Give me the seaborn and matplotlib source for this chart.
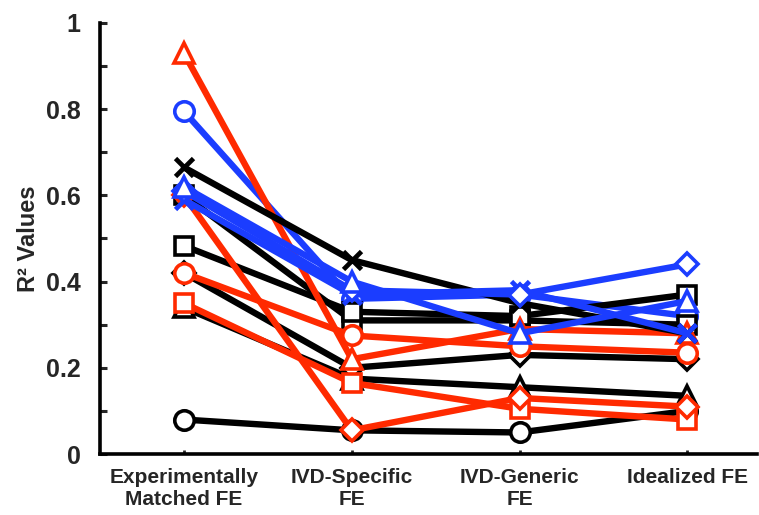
import matplotlib
matplotlib.use("Agg")
import matplotlib.pyplot as plt
import seaborn as sns
import pandas as pd
import numpy as np

# Model categories along the x axis
categories = ["Experimentally\nMatched FE", "IVD-Specific\nFE", "IVD-Generic\nFE", "Idealized FE"]

# R² values per specimen/model series (Exp-matched, IVD-specific, IVD-generic, idealized)
black_x        = [0.665, 0.45, 0.35, 0.28]
black_square   = [0.483, 0.33, 0.32, 0.37]
black_square_b = [0.60, 0.31, 0.31, 0.30]
black_diamond  = [0.42, 0.20, 0.23, 0.22]
black_triangle = [0.34, 0.175, 0.155, 0.135]
black_circle   = [0.08, 0.055, 0.05, 0.10]
red_triangle   = [0.93, 0.22, 0.29, 0.28]
red_circle     = [0.42, 0.275, 0.25, 0.235]
red_square     = [0.35, 0.165, 0.105, 0.08]
red_diamond    = [0.60, 0.055, 0.13, 0.11]
blue_circle    = [0.795, 0.36, 0.37, 0.32]
blue_triangle  = [0.62, 0.40, 0.28, 0.355]
blue_diamond   = [0.61, 0.38, 0.37, 0.44]
blue_x         = [0.59, 0.37, 0.38, 0.28]

BLACK = "#000000"
RED = "#FF2A00"
BLUE = "#1B3DFF"

# Drawing order: earlier series sit underneath later ones
series = [
    ("blue_circle", blue_circle, BLUE, "o"),
    ("black_circle", black_circle, BLACK, "o"),
    ("black_triangle", black_triangle, BLACK, "^"),
    ("black_diamond", black_diamond, BLACK, "D"),
    ("black_square_b", black_square_b, BLACK, "s"),
    ("black_square", black_square, BLACK, "s"),
    ("red_square", red_square, RED, "s"),
    ("red_diamond", red_diamond, RED, "D"),
    ("red_circle", red_circle, RED, "o"),
    ("red_triangle", red_triangle, RED, "^"),
    ("black_x", black_x, BLACK, "x"),
    ("blue_x", blue_x, BLUE, "x"),
    ("blue_diamond", blue_diamond, BLUE, "D"),
    ("blue_triangle", blue_triangle, BLUE, "^"),
]

sns.set_theme(style="white")
plt.rcParams["font.family"] = ["Liberation Sans", "DejaVu Sans"]
plt.rcParams["font.weight"] = "bold"

fig = plt.figure(figsize=(7.59, 5.15), dpi=100)
ax = fig.add_axes([0.1318, 0.1184, 0.866, 0.837])

marker_sizes = {"o": 14, "^": 14, "s": 13, "D": 11, "x": 13}

for name, vals, color, marker in series:
    df = pd.DataFrame({"model": np.arange(len(categories)), "r2": vals})
    sns.lineplot(
        data=df, x="model", y="r2", ax=ax, color=color, linewidth=4.6,
        marker=marker, markersize=marker_sizes[marker], markerfacecolor="white",
        markeredgecolor=color, markeredgewidth=2.6 if marker != "x" else 3.4,
        legend=False, solid_joinstyle="round", solid_capstyle="round",
    )

ax.set_xlim(-0.5, 3.417)
ax.set_ylim(0, 1)
ax.set_xticks(range(len(categories)))
ax.set_xticklabels(categories, fontsize=15, fontweight="bold", linespacing=1.2)
ax.set_yticks([0, 0.2, 0.4, 0.6, 0.8, 1.0])
ax.set_yticklabels(["0", "0.2", "0.4", "0.6", "0.8", "1"], fontsize=18, fontweight="bold")
ax.set_yticks(np.arange(0.1, 1.0, 0.2), minor=True)
ax.set_xlabel("")
ax.set_ylabel("R² Values", fontsize=17, fontweight="bold", labelpad=4)

for side in ["top", "right"]:
    ax.spines[side].set_visible(False)
for side in ["left", "bottom"]:
    ax.spines[side].set_linewidth(2.6)
    ax.spines[side].set_color("black")
    ax.spines[side].set_capstyle("projecting")

ax.tick_params(axis="y", which="both", direction="in", length=5, width=2.2, left=True, pad=14)
ax.tick_params(axis="x", direction="in", length=3, width=2, bottom=True, pad=10)

fig.savefig("out.png", dpi=100, facecolor="white")
